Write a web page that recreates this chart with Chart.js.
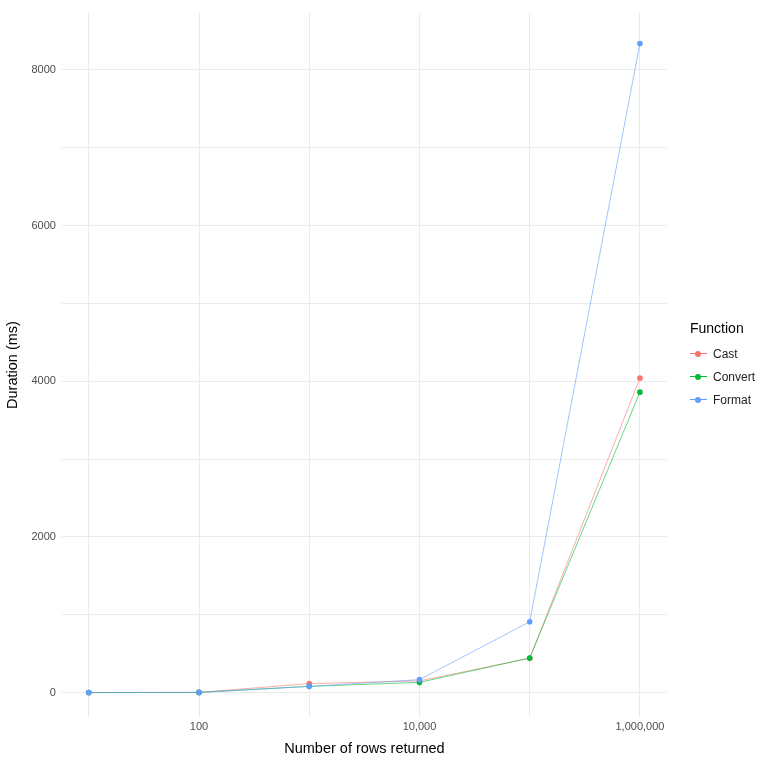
<!DOCTYPE html>
<html><head><meta charset="utf-8">
<script src="https://cdn.jsdelivr.net/npm/chart.js@4/dist/chart.umd.min.js"></script>
<style>
body{margin:0;background:#fff;font-family:"Liberation Sans",Arial,sans-serif}
#wrap{position:relative;width:773px;height:768px}
#legend{position:absolute;left:690px;top:320px;font-size:14px;color:#000}
.it{display:flex;align-items:center;font-size:12px;height:23px;color:#222}
.sw{position:relative;width:17px;height:10px;margin-right:6px}
.sw i{position:absolute;left:0;right:0;top:4.5px;height:1px}
.sw b{position:absolute;left:5px;top:2px;width:6px;height:6px;border-radius:50%}
</style></head><body>
<div id="wrap"><canvas id="c" width="773" height="768"></canvas>
<div id="legend"><div style="margin-bottom:6px">Function</div></div></div>
<script>
const rows=[10,100,1000,10000,100000,1000000];
const seriesNames=["Cast","Convert","Format"];
const colors=["#F8766D","#00BA38","#619CFF"];
const castVals=[0,2,115,150,440,4040];
const convertVals=[0,2,80,131,445,3860];
const formatVals=[0,2,80,166,910,8340];
const xLabels={100:"100",10000:"10,000",1000000:"1,000,000"};
const vals=[castVals,convertVals,formatVals];
const lg=document.getElementById('legend');
seriesNames.forEach((n,i)=>{lg.insertAdjacentHTML('beforeend',`<div class="it"><span class="sw"><i style="background:${colors[i]}"></i><b style="background:${colors[i]}"></b></span>${n}</div>`)});
new Chart(document.getElementById('c'),{type:'line',
data:{datasets:seriesNames.map((n,i)=>({label:n,order:3-i,data:rows.map((r,j)=>({x:r,y:vals[i][j]})),borderColor:colors[i],backgroundColor:colors[i],borderWidth:0.6,pointRadius:2.8,pointBorderWidth:0,tension:0}))},
options:{responsive:false,animation:false,layout:{padding:{left:0,right:106,top:3,bottom:6}},
plugins:{legend:{display:false},tooltip:{enabled:false}},
scales:{
x:{type:'logarithmic',min:5.7,max:1.76e6,
 afterBuildTicks:s=>{s.ticks=rows.map(v=>({value:v}))},
 ticks:{callback:v=>xLabels[v]||'',color:'#4d4d4d',font:{size:11,family:'Liberation Sans'},maxRotation:0,autoSkip:false},
 grid:{color:'#ebebeb',lineWidth:1,drawTicks:false},border:{display:false},
 title:{display:true,text:'Number of rows returned',color:'#000',font:{size:14.5,family:'Liberation Sans'},padding:{top:4}}},
y:{min:-319,max:8737,
 afterBuildTicks:s=>{const t=[];for(let v=0;v<=8000;v+=1000)t.push({value:v});s.ticks=t},
 ticks:{callback:v=>v%2000===0?String(v):'',color:'#4d4d4d',font:{size:11,family:'Liberation Sans'},padding:6},
 grid:{color:'#ebebeb',lineWidth:1,drawTicks:false},border:{display:false},
 title:{display:true,text:'Duration (ms)',color:'#000',font:{size:14.5,family:'Liberation Sans'},padding:{bottom:4}}}
}}});
</script></body></html>
